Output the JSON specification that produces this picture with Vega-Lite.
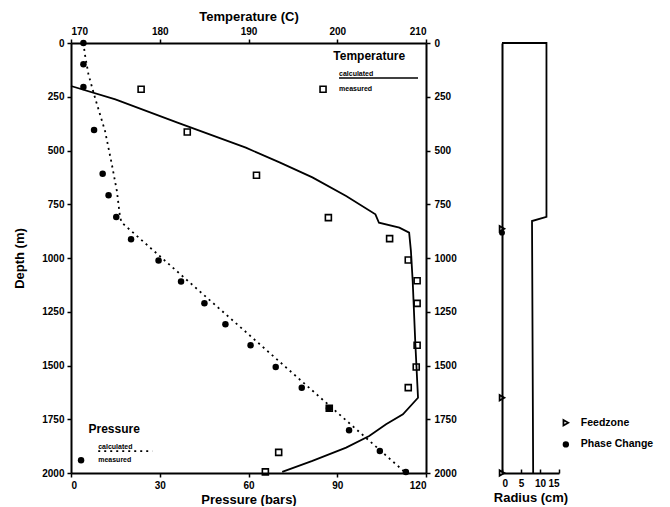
{
  "$schema": "https://vega.github.io/schema/vega-lite/v6.json",
  "padding": {"left": 13, "top": 10, "right": 0, "bottom": 0},
  "spacing": 76,
  "bounds": "flush",
  "config": {
    "font": "Liberation Sans",
    "view": {"stroke": null},
    "axis": {
      "grid": false,
      "domainColor": "black",
      "domainWidth": 2,
      "tickColor": "black",
      "tickWidth": 1.5,
      "tickSize": 4,
      "labelColor": "black",
      "labelFont": "Liberation Sans",
      "labelFontWeight": "bold",
      "labelFontSize": 10,
      "labelPadding": 3,
      "format": "d",
      "titleColor": "black",
      "titleFont": "Liberation Sans",
      "titleFontWeight": "bold",
      "titleFontSize": 13
    }
  },
  "datasets": {
    "pressCalc": [
      {"p": 4.2, "d": 0}, {"p": 4.7, "d": 53}, {"p": 5.9, "d": 146}, {"p": 8.1, "d": 254},
      {"p": 11.5, "d": 409}, {"p": 13.8, "d": 564}, {"p": 15.5, "d": 688}, {"p": 16.6, "d": 812},
      {"p": 17.2, "d": 836}, {"p": 113.2, "d": 2000}
    ],
    "pressMeas": [
      {"p": 4.2, "d": 0}, {"p": 4.2, "d": 99}, {"p": 4.2, "d": 205}, {"p": 7.8, "d": 405},
      {"p": 10.7, "d": 608}, {"p": 12.7, "d": 708}, {"p": 15.3, "d": 809}, {"p": 20.3, "d": 913},
      {"p": 29.6, "d": 1012}, {"p": 37.2, "d": 1109}, {"p": 45.1, "d": 1211}, {"p": 52.2, "d": 1308},
      {"p": 60.7, "d": 1406}, {"p": 69.2, "d": 1507}, {"p": 78.0, "d": 1603}, {"p": 87.2, "d": 1699},
      {"p": 94.0, "d": 1801}, {"p": 104.4, "d": 1898}, {"p": 113.2, "d": 1995}
    ],
    "tempCalc": [
      {"t": 170, "d": 200}, {"t": 175, "d": 262}, {"t": 182, "d": 370}, {"t": 189.7, "d": 487},
      {"t": 193.5, "d": 555}, {"t": 197.2, "d": 625}, {"t": 201, "d": 712}, {"t": 204.3, "d": 797},
      {"t": 204.7, "d": 836}, {"t": 207, "d": 859}, {"t": 208.1, "d": 882}, {"t": 208.3, "d": 967},
      {"t": 208.5, "d": 1107}, {"t": 208.8, "d": 1400}, {"t": 209.1, "d": 1650}, {"t": 207.4, "d": 1727},
      {"t": 205.5, "d": 1773}, {"t": 203.6, "d": 1828}, {"t": 201.0, "d": 1882}, {"t": 197.2, "d": 1944},
      {"t": 193.8, "d": 1995}
    ],
    "tempMeas": [
      {"t": 177.9, "d": 215}, {"t": 183.1, "d": 414}, {"t": 190.9, "d": 615}, {"t": 199.0, "d": 812},
      {"t": 205.9, "d": 910}, {"t": 208.0, "d": 1009}, {"t": 209.0, "d": 1106}, {"t": 209.0, "d": 1211},
      {"t": 209.0, "d": 1406}, {"t": 208.9, "d": 1507}, {"t": 208.0, "d": 1603}, {"t": 199.1, "d": 1699},
      {"t": 193.4, "d": 1904}, {"t": 191.9, "d": 1995}
    ],
    "tempLegendTitle": [{"t": 203.6, "d": 60, "label": "Temperature"}],
    "tempLegendSmall": [{"t": 200.2, "d": 142, "label": "calculated"}, {"t": 200.2, "d": 215, "label": "measured"}],
    "tempLegendRule": [{"t": 200.2, "t2": 209.1, "d": 163}],
    "tempLegendSymbol": [{"t": 198.4, "d": 215}],
    "pressLegendTitle": [{"p": 14.6, "d": 1794, "label": "Pressure"}],
    "pressLegendSmall": [{"p": 9.2, "d": 1877, "label": "calculated"}, {"p": 9.2, "d": 1941, "label": "measured"}],
    "pressLegendRule": [{"p": 9.2, "p2": 27.5, "d": 1898}],
    "pressLegendSymbol": [{"p": 3.4, "d": 1941}],
    "wellbore": [
      {"i": 1, "r": 0, "d": 0}, {"i": 2, "r": 11.7, "d": 0}, {"i": 3, "r": 11.7, "d": 809},
      {"i": 4, "r": 7.9, "d": 828}, {"i": 5, "r": 8.2, "d": 2000}
    ],
    "feedzones": [{"r": 0, "d": 864}, {"r": 0, "d": 1650}, {"r": 0, "d": 2000}],
    "phaseChange": [{"r": 0, "d": 882}],
    "legendFeed": [{"r": 16.8, "d": 1766, "label": "Feedzone"}],
    "legendPhase": [{"r": 16.8, "d": 1867, "label": "Phase Change"}]
  },
  "hconcat": [
    {
      "width": 355,
      "height": 430,
      "resolve": {"scale": {"x": "independent", "y": "independent"}},
      "layer": [
        {
          "encoding": {
            "x": {"field": "p", "type": "quantitative",
              "scale": {"domain": [0, 120], "nice": false, "zero": false},
              "axis": {"orient": "bottom", "values": [0, 30, 60, 90, 120], "title": "Pressure (bars)", "titlePadding": 3}},
            "y": {"field": "d", "type": "quantitative",
              "scale": {"domain": [0, 2000], "reverse": true, "nice": false},
              "axis": {"orient": "left", "values": [0, 250, 500, 750, 1000, 1250, 1500, 1750, 2000], "title": "Depth (m)", "titlePadding": 15}}
          },
          "layer": [
            {"data": {"name": "pressCalc"}, "mark": {"type": "line", "color": "black", "strokeDash": [2, 4], "strokeWidth": 1.8},
             "encoding": {"order": {"field": "d", "type": "quantitative"}}},
            {"data": {"name": "pressMeas"}, "mark": {"type": "point", "shape": "circle", "filled": true, "color": "black", "size": 42, "opacity": 1}},
            {"data": {"name": "pressLegendTitle"}, "mark": {"type": "text", "align": "center", "baseline": "middle", "fontSize": 12, "fontWeight": "bold", "color": "black"},
             "encoding": {"text": {"field": "label"}}},
            {"data": {"name": "pressLegendSmall"}, "mark": {"type": "text", "align": "left", "baseline": "middle", "fontSize": 7, "fontWeight": "bold", "color": "black"},
             "encoding": {"text": {"field": "label"}}},
            {"data": {"name": "pressLegendRule"}, "mark": {"type": "rule", "color": "black", "strokeDash": [2, 4], "strokeWidth": 1.8},
             "encoding": {"x2": {"field": "p2"}}},
            {"data": {"name": "pressLegendSymbol"}, "mark": {"type": "point", "shape": "circle", "filled": true, "color": "black", "size": 42, "opacity": 1}}
          ]
        },
        {
          "encoding": {
            "x": {"field": "t", "type": "quantitative",
              "scale": {"domain": [170, 210], "nice": false, "zero": false},
              "axis": {"orient": "top", "values": [170, 180, 190, 200, 210], "title": "Temperature (C)", "titlePadding": 3}},
            "y": {"field": "d", "type": "quantitative",
              "scale": {"domain": [0, 2000], "reverse": true, "nice": false},
              "axis": {"orient": "right", "values": [0, 250, 500, 750, 1000, 1250, 1500, 1750, 2000], "title": null, "labelPadding": 4}}
          },
          "layer": [
            {"data": {"name": "tempCalc"}, "mark": {"type": "line", "color": "black", "strokeWidth": 1.8},
             "encoding": {"order": {"field": "d", "type": "quantitative"}}},
            {"data": {"name": "tempMeas"}, "mark": {"type": "point", "shape": "square", "filled": false, "color": "black", "size": 36, "strokeWidth": 1.6, "opacity": 1}},
            {"data": {"name": "tempLegendTitle"}, "mark": {"type": "text", "align": "center", "baseline": "middle", "fontSize": 12, "fontWeight": "bold", "color": "black"},
             "encoding": {"text": {"field": "label"}}},
            {"data": {"name": "tempLegendSmall"}, "mark": {"type": "text", "align": "left", "baseline": "middle", "fontSize": 7, "fontWeight": "bold", "color": "black"},
             "encoding": {"text": {"field": "label"}}},
            {"data": {"name": "tempLegendRule"}, "mark": {"type": "rule", "color": "black", "strokeWidth": 1.5},
             "encoding": {"x2": {"field": "t2"}}},
            {"data": {"name": "tempLegendSymbol"}, "mark": {"type": "point", "shape": "square", "filled": false, "color": "black", "size": 36, "strokeWidth": 1.6, "opacity": 1}}
          ]
        }
      ]
    },
    {
      "width": 57,
      "height": 430,
      "encoding": {
        "x": {"field": "r", "type": "quantitative",
          "scale": {"domain": [0, 15], "nice": false, "zero": false},
          "axis": {"values": [0, 5, 10, 15], "title": "Radius (cm)", "titlePadding": 3, "tickSize": -4, "labelPadding": 9}},
        "y": {"field": "d", "type": "quantitative",
          "scale": {"domain": [0, 2000], "reverse": true, "nice": false},
          "axis": {"labels": false, "ticks": false, "title": null}}
      },
      "layer": [
        {"data": {"name": "wellbore"}, "mark": {"type": "line", "color": "black", "strokeWidth": 1.8},
         "encoding": {"order": {"field": "i", "type": "quantitative"}}},
        {"data": {"name": "feedzones"}, "mark": {"type": "point", "shape": "triangle-right", "filled": false, "color": "black", "size": 30, "strokeWidth": 1.8, "opacity": 1}},
        {"data": {"name": "phaseChange"}, "mark": {"type": "point", "shape": "circle", "filled": true, "color": "black", "size": 35, "opacity": 1}},
        {"data": {"name": "legendFeed"}, "mark": {"type": "point", "shape": "triangle-right", "filled": false, "color": "black", "size": 30, "strokeWidth": 1.8, "opacity": 1}},
        {"data": {"name": "legendPhase"}, "mark": {"type": "point", "shape": "circle", "filled": true, "color": "black", "size": 40, "opacity": 1}},
        {"data": {"name": "legendFeed"}, "mark": {"type": "text", "align": "left", "baseline": "middle", "dx": 15, "fontSize": 10.5, "fontWeight": "bold", "color": "black"},
         "encoding": {"text": {"field": "label"}}},
        {"data": {"name": "legendPhase"}, "mark": {"type": "text", "align": "left", "baseline": "middle", "dx": 15, "fontSize": 10.5, "fontWeight": "bold", "color": "black"},
         "encoding": {"text": {"field": "label"}}}
      ]
    }
  ]
}
